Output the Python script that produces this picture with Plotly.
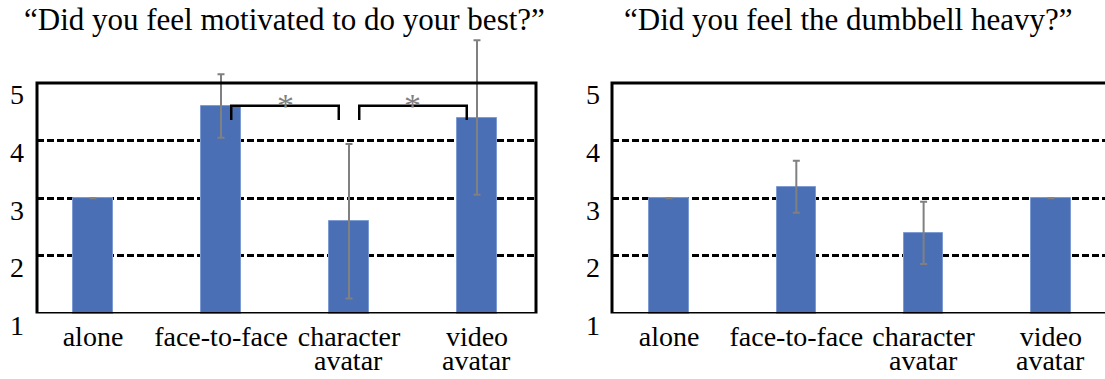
import plotly.graph_objects as go

# ---------------- data ----------------
categories = ["alone", "face-to-face", "character avatar", "video avatar"]
label_line1 = ["alone", "face-to-face", "character", "video"]
label_line2 = ["", "", "avatar", "avatar"]

motivated_mean = [3.0, 4.6, 2.6, 4.4]
motivated_sd = [0.0, 0.55, 1.34, 1.34]

heavy_mean = [3.0, 3.2, 2.4, 3.0]
heavy_sd = [0.0, 0.45, 0.54, 0.0]

titles = ["“Did you feel motivated to do your best?”",
          "“Did you feel the dumbbell heavy?”"]
y_ticks = [1, 2, 3, 4, 5]
y_min, y_max = 1, 5
sig_pairs = [(1, 2), (2, 3)]   # significant comparisons in the left chart
sig_label = "*"

# ---------------- styling ----------------
W, H = 1105, 379
FONT = "Liberation Serif"
BAR = "#4a6fb5"
ERR = "#808080"
PX_BOTTOM, PX_TOP = 313.5, 83.0          # pixel rows of y=1 and y=5
px_per_unit = (PX_BOTTOM - PX_TOP) / (y_max - y_min)
head = 0.85                               # room above 5 for tall error bars
dom_top_px = PX_TOP - head * px_per_unit

xs = list(range(len(categories)))

fig = go.Figure()
for i, (mean, sd) in enumerate([(motivated_mean, motivated_sd), (heavy_mean, heavy_sd)]):
    fig.add_trace(go.Bar(
        x=xs, y=mean, base=0, width=0.31, cliponaxis=False,
        marker=dict(color=BAR, line=dict(color="#7d9bd3", width=1)),
        error_y=dict(type="data", array=sd, visible=True, color=ERR,
                     thickness=2, width=3.5),
        xaxis="x" if i == 0 else "x2", yaxis="y" if i == 0 else "y2",
        showlegend=False, hoverinfo="skip"))

ydom = [1 - PX_BOTTOM / H, 1 - dom_top_px / H]
ax_common = dict(showline=False, ticks="", showgrid=False, zeroline=False,
                 tickfont=dict(family=FONT, size=28, color="black"),
                 tickvals=xs, ticktext=label_line1, ticklabelstandoff=3)
ay_common = dict(range=[y_min, y_max + head], tickvals=y_ticks[1:-1],
                 showticklabels=False, showgrid=True, gridcolor="black",
                 gridwidth=2.5, griddash="7px,3px", zeroline=False,
                 showline=False, ticks="")

fig.update_layout(
    width=W, height=H, margin=dict(l=0, r=0, t=0, b=0),
    paper_bgcolor="white", plot_bgcolor="white", bargap=0,
    font=dict(family=FONT),
    xaxis=dict(domain=[37 / W, 536 / W], range=[-0.4375, 3.461],
               anchor="y", **ax_common),
    yaxis=dict(domain=ydom, anchor="x", **ay_common),
    xaxis2=dict(domain=[612 / W, 1.0], range=[-0.448, 3.425],
                anchor="y2", **ax_common),
    yaxis2=dict(domain=ydom, anchor="x2", **ay_common),
)

annotations = []
shapes = []
# plot frames (solid box from 1 to 5)
for xa, ya, x1 in [("x", "y", 1.0), ("x2", "y2", 1.03)]:
    shapes.append(dict(type="rect", xref=f"{xa} domain", yref=ya,
                       x0=0, x1=x1, y0=y_min, y1=y_max, layer="above",
                       line=dict(color="black", width=3)))

# titles
for t, cx in zip(titles, [284, 848]):
    annotations.append(dict(text=t, x=cx / W, y=1 - 20 / H, xref="paper",
                            yref="paper", showarrow=False, xanchor="center",
                            yanchor="middle",
                            font=dict(family=FONT, size=31, color="black")))
# y tick labels (set slightly below their grid lines, as in the original)
for yref, cx in [("y", 17), ("y2", 593)]:
    for v in y_ticks:
        annotations.append(dict(text=str(v), x=cx / W, y=v, xref="paper",
                                yref=yref, showarrow=False, xanchor="center",
                                yanchor="middle", yshift=-12,
                                font=dict(family=FONT, size=28, color="black")))
# second line of category labels
for xref in ["x", "x2"]:
    for i, s in enumerate(label_line2):
        if s:
            annotations.append(dict(text=s, x=i, y=ydom[0], xref=xref,
                                    yref="paper", showarrow=False,
                                    xanchor="center", yanchor="middle",
                                    yshift=-47,
                                    font=dict(family=FONT, size=28,
                                              color="black")))

# significance brackets on the left chart
inset, top, leg = 0.08, 4.605, 4.36
for a, b in sig_pairs:
    x0, x1 = a + inset, b - inset
    shapes.append(dict(type="path", xref="x", yref="y",
                       path=f"M {x0},{leg} L {x0},{top} L {x1},{top} L {x1},{leg}",
                       line=dict(color="black", width=2.5)))
    annotations.append(dict(text=sig_label, x=(a + b) / 2, y=top, xref="x",
                            yref="y", showarrow=False, xanchor="center",
                            yanchor="bottom", yshift=-20,
                            font=dict(family=FONT, size=34, color=ERR)))

fig.update_layout(annotations=annotations, shapes=shapes)
fig.write_html("out.html")
